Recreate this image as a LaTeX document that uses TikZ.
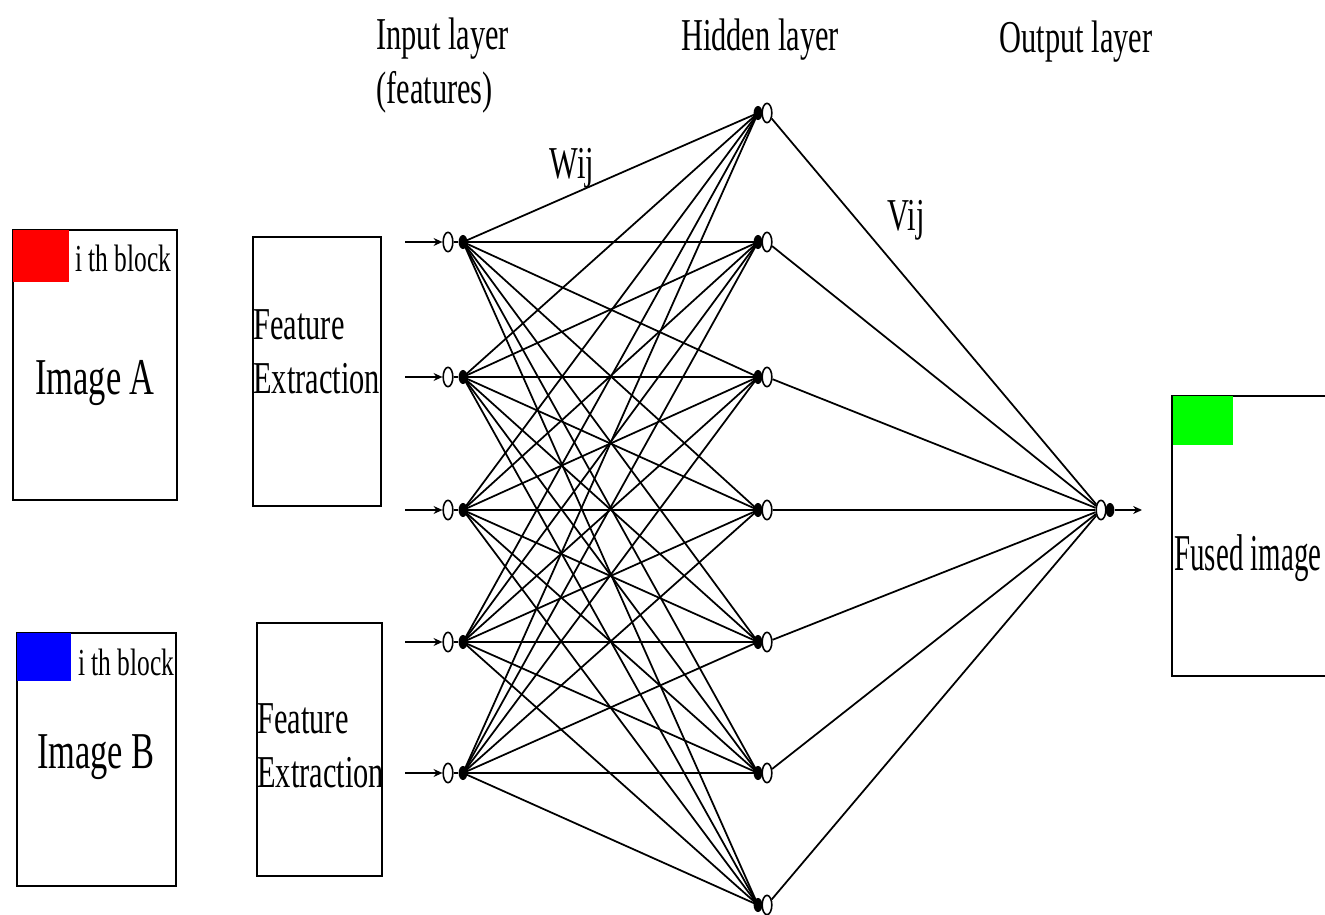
\documentclass[tikz,border=0pt]{standalone}
\usepackage{graphicx}
\usepackage{fontspec}
\setmainfont{Liberation Serif}
\usetikzlibrary{shapes.geometric,arrows.meta}
\pgfdeclarelayer{bg}
\pgfsetlayers{bg,main}
\newcommand{\vstretch}[1]{\scalebox{1}[1.5]{#1}}
\begin{document}
\begin{tikzpicture}[x=0.02cm,y=-0.02cm,
  box/.style={draw,line width=1.3pt,inner sep=0pt},
  blockfill/.style={inner sep=0pt},
  lab/.style={inner sep=0pt,font=\fontsize{17.3}{20.5}\selectfont},
  big/.style={inner sep=0pt,font=\fontsize{19.6}{22}\selectfont},
  small/.style={inner sep=0pt,font=\fontsize{14.5}{16}\selectfont},
  neuron/.style={draw,ellipse,fill=white,line width=0.9pt,minimum width=5.5pt,minimum height=11pt,inner sep=0pt},
  junc/.style={fill=black,ellipse,minimum width=5pt,minimum height=8pt,inner sep=0pt},
  wire/.style={line width=1pt},
  feed/.style={line width=1.2pt,-{Stealth[length=5pt,width=4.5pt]}}
]
\path[use as bounding box, clip] (0,0) rectangle (1325,915);

% image boxes
\node[box,minimum width=3.28cm,minimum height=5.4cm] (imgA) at (95,365) {};
\node[blockfill,fill=red,minimum width=1.12cm,minimum height=1.04cm] (blkA) at (41,256) {};
\node[small,anchor=west] (blkAt) at (75,258) {\vstretch{i th block}};
\node[big] (imgAt) at (95,383) {\vstretch{Image A}};

\node[box,minimum width=3.18cm,minimum height=5.06cm] (imgB) at (96.5,759.5) {};
\node[blockfill,fill=blue,minimum width=1.08cm,minimum height=0.96cm] (blkB) at (44,657) {};
\node[small,anchor=west] (blkBt) at (78,662) {\vstretch{i th block}};
\node[big] (imgBt) at (96,757) {\vstretch{Image B}};

% feature extraction
\node[box,minimum width=2.56cm,minimum height=5.38cm] (fe1) at (317,371.5) {};
\node[lab,anchor=west] (fe1t) at (253,356) {\vstretch{\begin{tabular}{@{}l@{}}Feature\\Extraction\end{tabular}}};
\node[box,minimum width=2.5cm,minimum height=5.06cm] (fe2) at (319.5,749.5) {};
\node[lab,anchor=west] (fe2t) at (257,750) {\vstretch{\begin{tabular}{@{}l@{}}Feature\\Extraction\end{tabular}}};

% fused image
\draw[line width=1.3pt] (1330,396) -- (1172,396) -- (1172,676) -- (1330,676);
\node[blockfill,fill=green,minimum width=1.2cm,minimum height=0.98cm] (blkF) at (1203,420.5) {};
\node[big,anchor=west] (fusedt) at (1174,558) {\scalebox{0.84}[1.5]{Fused image}};

% headings
\node[lab,anchor=west] (inlab) at (376,66) {\vstretch{\begin{tabular}{@{}l@{}}Input layer\\(features)\end{tabular}}};
\node[lab] (hidlab) at (760,40) {\vstretch{Hidden layer}};
\node[lab] (outlab) at (1076,42) {\vstretch{Output layer}};
\node[lab] (wlab) at (572,168) {\vstretch{Wij}};
\node[lab] (vlab) at (906,220) {\vstretch{Vij}};

% input layer
\foreach \k/\y in {1/242,2/377,3/510,4/642,5/773}{
  \coordinate (iS\k) at (405,\y);
  \node[neuron] (iE\k) at (448,\y) {};
  \node[junc] (iJ\k) at (463,\y) {};
}
% hidden layer
\foreach \k/\y in {1/113,2/242,3/377,4/510,5/642,6/773,7/905}{
  \node[junc] (hJ\k) at (758,\y) {};
  \node[neuron] (hE\k) at (767,\y) {};
}
% output
\node[neuron] (oE) at (1101,510) {};
\node[junc] (oJ) at (1110,510) {};
\coordinate (oT) at (1142,510);

\begin{pgfonlayer}{bg}
\foreach \i in {1,...,5}{
  \foreach \j in {1,...,7}{
    \draw[wire] (iJ\i.center) -- (hJ\j.center);
  }
}
\foreach \i/\j in {1/2,2/3,3/4,4/5,5/6}{
  \draw[line width=1.4pt] (iJ\i.center) -- (hJ\j.center);
}
\foreach \j in {1,...,7}{
  \draw[wire] (hE\j) -- (oE);
}
\draw[line width=1.4pt] (hE4) -- (oE);
\foreach \i in {1,...,5}{
  \draw[line width=1.2pt] (iE\i) -- (iJ\i);
}
\end{pgfonlayer}
\foreach \i in {1,...,5}{
  \draw[feed] (iS\i) -- (iE\i);
}
\draw[feed] (oJ) -- (oT);
\end{tikzpicture}
\end{document}
